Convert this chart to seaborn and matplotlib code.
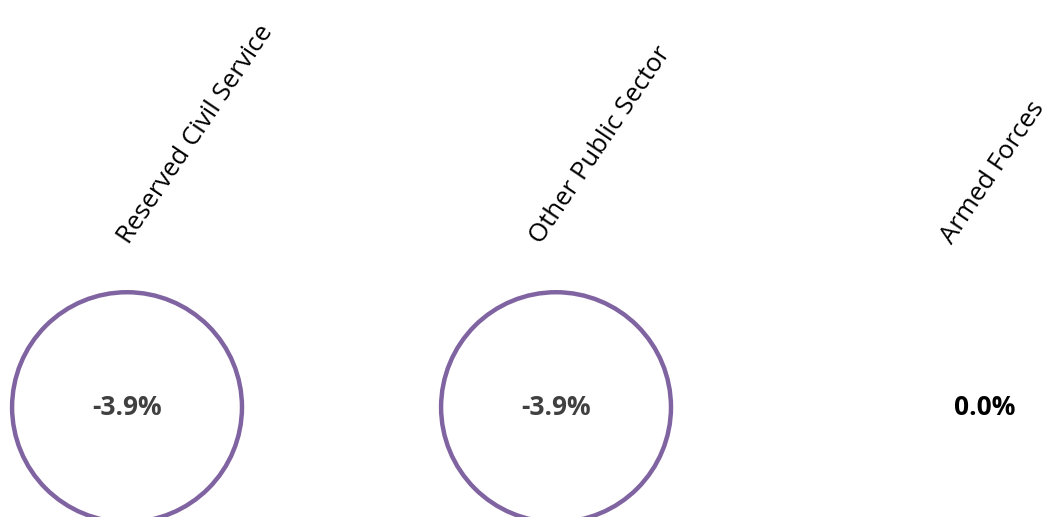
import numpy as np
import pandas as pd
import matplotlib
matplotlib.use("Agg")
import matplotlib.pyplot as plt
import seaborn as sns

categories = ["Reserved Civil Service", "Other Public Sector", "Armed Forces"]
changes = [-3.9, -3.9, 0.0]

PURPLE = "#8064A2"
# small horizontal nudges for the rotated category labels (axis units)
LABEL_NUDGE = [0.005, -0.035, -0.078]

sns.set_theme(style="white")
plt.rcParams['font.family'] = ['Open Sans', 'DejaVu Sans']

df = pd.DataFrame({"category": categories, "change": changes})
df["x"] = np.arange(len(df))
df["y"] = 0.256

fig = plt.figure(figsize=(10.52, 5.17), dpi=100)
ax = fig.add_axes([0, 0, 1, 1])

# circles only for non-zero changes
sns.scatterplot(data=df[df["change"] != 0], x="x", y="y", s=27400,
                facecolors="none", edgecolor=PURPLE, linewidth=3.2,
                legend=False, ax=ax, clip_on=False)

for i, r in df.iterrows():
    col = "#404040" if r["change"] != 0 else "black"
    ax.text(r["x"], r["y"], f"{r['change']:.1f}%", ha="center", va="center",
            fontsize=19, fontweight="bold", color=col)
    ax.text(r["x"] + LABEL_NUDGE[i], 0.635, r["category"], rotation=56,
            rotation_mode="anchor", ha="left", va="baseline",
            fontsize=18.5, color="black")

ax.set_xlim(-0.296, 2.156)
ax.set_ylim(0, 517 / 429)
ax.set_aspect("equal")
ax.axis("off")

fig.savefig("out.png", dpi=100)
